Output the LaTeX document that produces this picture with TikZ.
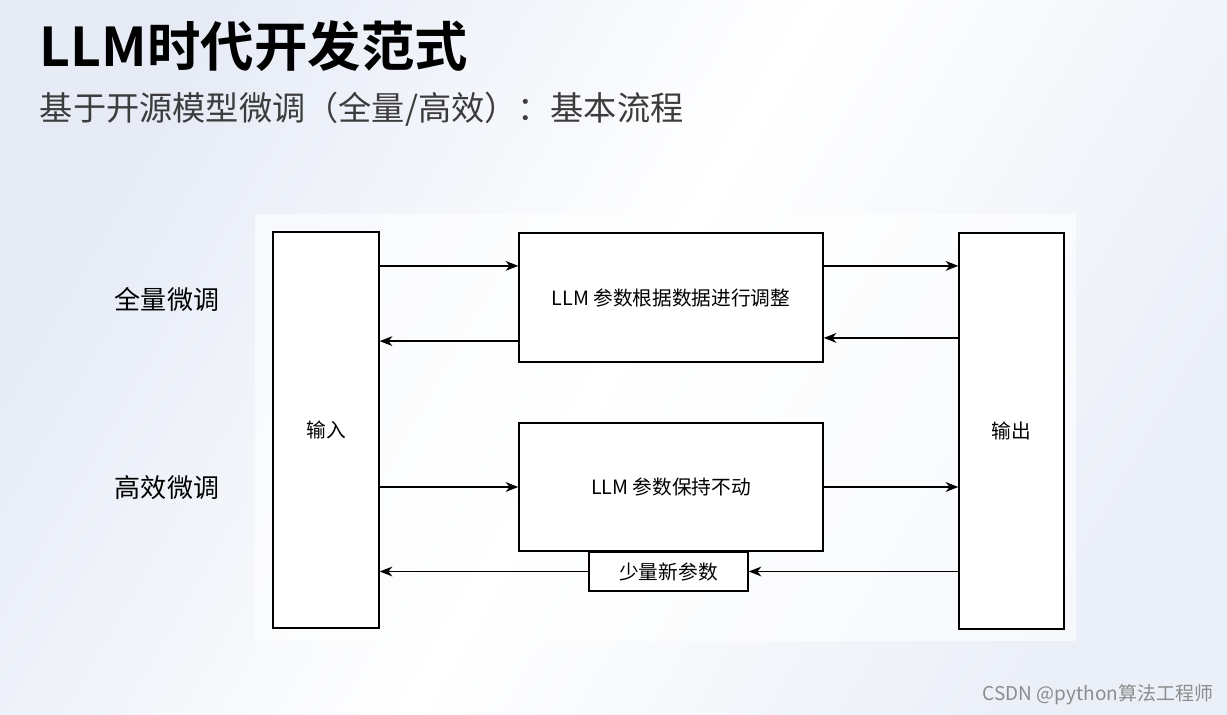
\documentclass[tikz,border=0pt]{standalone}
\usepackage{fontspec}
\setmainfont{Noto Sans CJK SC}
\newfontfamily\titlefont{Noto Sans CJK SC Bold}
\usepackage{tikz}
\usetikzlibrary{positioning,calc,arrows.meta}
\definecolor{bgblue}{RGB}{230,235,246}
\definecolor{subgray}{RGB}{60,60,60}
\tikzstyle{blk}=[draw=black, line width=1pt, fill=white, align=center,
        inner sep=0pt, font=\fontsize{14}{16}\selectfont]
\tikzstyle{arr}=[-{Stealth[length=9pt,width=7pt,inset=2.8pt]}, line width=0.9pt]

\begin{document}
\begin{tikzpicture}[x=0.025cm, y=-0.025cm]

        \useasboundingbox (0,0) rectangle (1227,715);
        \shade[shading=axis, left color=bgblue, right color=bgblue!80,
            middle color=white, shading angle=60] (0,0) rectangle (1227,715);
        \fill[white, opacity=0.6] (255,214) rectangle (1076,641);

        \node[anchor=west, font=\titlefont\fontsize{38}{41}\selectfont] (title)
            at (35,46) {LLM时代开发范式};
        \node[anchor=west, text=subgray, font=\fontsize{23.6}{27}\selectfont] (sub)
            at (35,109) {基于开源模型微调（全量/高效）：基本流程};

        \node[blk, minimum width=2.65cm, minimum height=9.9cm] (in)
            at (326,430) {输入};
        \node[blk, minimum width=7.6cm, minimum height=3.225cm] (ft)
            at (671,297.5) {LLM 参数根据数据进行调整};
        \node[blk, minimum width=7.6cm, minimum height=3.2cm] (pe)
            at (671,487) {LLM 参数保持不动};
        \node[blk, minimum width=3.975cm, minimum height=0.975cm] (np)
            at (668.5,571.5) {少量新参数};
        \node[blk, minimum width=2.625cm, minimum height=9.9cm] (out)
            at (1011.5,431) {输出};

        \node[font=\fontsize{18.5}{20}\selectfont] (full) at (167,299) {全量微调};
        \node[font=\fontsize{18.5}{20}\selectfont] (eff) at (167,488) {高效微调};

        % full fine-tuning
        \coordinate (ftA) at ([yshift=0.79cm]ft.west);
        \coordinate (ftB) at ([yshift=-1.09cm]ft.west);
        \coordinate (ftC) at ([yshift=0.79cm]ft.east);
        \coordinate (ftD) at ([yshift=-1.01cm]ft.east);
        \draw[arr] (in.east |- ftA) -- (ftA);
        \draw[arr] (ftB) -- (in.east |- ftB);
        \draw[arr] (ftC) -- (out.west |- ftC);
        \draw[arr] (out.west |- ftD) -- (ftD);

        % efficient fine-tuning
        \draw[arr] (in.east |- pe.west) -- (pe.west);
        \draw[arr] (pe.east) -- (out.west |- pe.east);
        \draw[arr] (out.west |- np.east) -- (np.east);
        \draw[arr] (np.west) -- (in.east |- np.west);

        \node[text=black!45, font=\fontsize{13.5}{15}\selectfont] (mark)
            at (1098,695) {CSDN @python算法工程师};

    \end{tikzpicture}
\end{document}
